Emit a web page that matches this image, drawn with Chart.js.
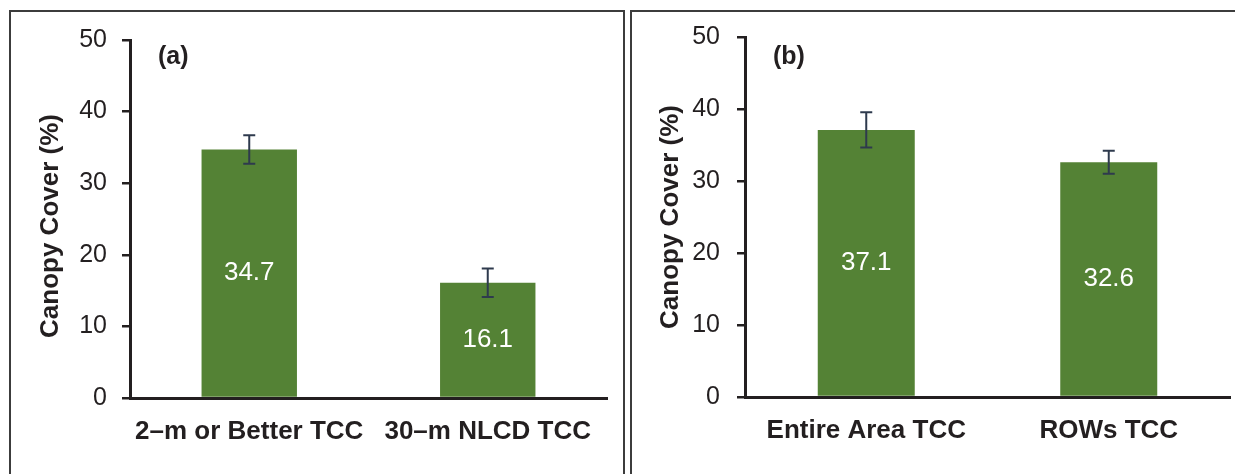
<!DOCTYPE html>
<html>
<head>
<meta charset="utf-8">
<script src="https://cdn.jsdelivr.net/npm/chart.js@4.4.0/dist/chart.umd.min.js"></script>
<style>
  html, body { margin: 0; padding: 0; background: #fff; }
  body { width: 1235px; height: 474px; position: relative; overflow: hidden; }
  .panel { position: absolute; box-sizing: border-box; border: 2px solid #3c3c3c; }
  canvas { position: absolute; }
</style>
</head>
<body>
<div class="panel" style="left:9px; top:10px; width:616px; height:520px;"></div>
<div class="panel" style="left:630px; top:10px; width:700px; height:520px;"></div>
<canvas id="chartA" width="615" height="463" style="left:10px; top:11px;"></canvas>
<canvas id="chartB" width="604" height="463" style="left:631px; top:11px;"></canvas>
<script>
// panel (a)
const labelsA = ['2\u2013m or Better TCC', '30\u2013m NLCD TCC'];
const valuesA = [34.7, 16.1];
const errorsA = [2.0, 2.0];

// panel (b)
const labelsB = ['Entire Area TCC', 'ROWs TCC'];
const valuesB = [37.1, 32.6];
const errorsB = [2.45, 1.6];

const yTicks = [0, 10, 20, 30, 40, 50];
const yTitle = 'Canopy Cover (%)';

const FONT = "'Liberation Sans', Arial, Helvetica, sans-serif";
const INK = '#231f20';
const GREEN = '#548235';

// error bars, value labels inside bars, panel letter and y title
const barExtras = {
    id: 'barExtras',
    afterDatasetsDraw(chart, args, opts) {
        const ctx = chart.ctx;
        const area = chart.chartArea;
        const yScale = chart.scales.y;
        const meta = chart.getDatasetMeta(0);
        const values = chart.data.datasets[0].data;
        ctx.save();
        meta.data.forEach((bar, i) => {
            const v = values[i];
            const e = opts.errors[i];
            const yHi = yScale.getPixelForValue(v + e);
            const yLo = yScale.getPixelForValue(v - e);
            ctx.strokeStyle = '#2e3a4d';
            ctx.lineWidth = 2;
            ctx.beginPath();
            ctx.moveTo(bar.x, yHi);
            ctx.lineTo(bar.x, yLo);
            ctx.moveTo(bar.x - 6, yHi);
            ctx.lineTo(bar.x + 6, yHi);
            ctx.moveTo(bar.x - 6, yLo);
            ctx.lineTo(bar.x + 6, yLo);
            ctx.stroke();

            ctx.fillStyle = '#ffffff';
            ctx.font = '26px ' + FONT;
            ctx.textAlign = 'center';
            ctx.textBaseline = 'middle';
            ctx.fillText(v.toFixed(1), bar.x, (bar.y + bar.base) / 2);
        });

        ctx.fillStyle = INK;
        ctx.font = 'bold 25px ' + FONT;
        ctx.textAlign = 'left';
        ctx.textBaseline = 'middle';
        ctx.fillText(opts.letter, area.left + 28, area.top + opts.letterDy);

        // rotated axis title
        ctx.translate(opts.titleX, (area.top + area.bottom) / 2 + opts.titleDy);
        ctx.rotate(-Math.PI / 2);
        ctx.font = 'bold 26px ' + FONT;
        ctx.textAlign = 'center';
        ctx.fillText(yTitle, 0, 0);
        ctx.restore();
    }
};

function makeChart(canvasId, labels, values, errors, letter, cfg) {
    const ctx = document.getElementById(canvasId).getContext('2d');
    return new Chart(ctx, {
        type: 'bar',
        data: {
            labels: labels,
            datasets: [{
                data: values,
                backgroundColor: GREEN,
                borderWidth: 0,
                categoryPercentage: 1.0,
                barPercentage: 0.4
            }]
        },
        options: {
            responsive: false,
            animation: false,
            events: [],
            layout: { padding: { top: cfg.padTop, right: cfg.padRight, left: 0, bottom: 0 } },
            plugins: {
                legend: { display: false },
                tooltip: { enabled: false },
                barExtras: { errors: errors, letter: letter, letterDy: cfg.letterDy, titleX: cfg.titleX, titleDy: cfg.titleDy }
            },
            scales: {
                x: {
                    grid: { display: false, drawTicks: false },
                    border: { display: true, color: INK, width: 3 },
                    ticks: {
                        color: INK,
                        padding: 18,
                        maxRotation: 0,
                        autoSkip: false,
                        font: { family: FONT, size: 26, weight: 'bold' }
                    },
                    afterFit: (scale) => { scale.height = cfg.xHeight; }
                },
                y: {
                    min: yTicks[0],
                    max: yTicks[yTicks.length - 1],
                    afterBuildTicks: (scale) => { scale.ticks = yTicks.map(v => ({ value: v })); },
                    grid: { display: true, drawOnChartArea: false, drawTicks: true, tickLength: 8, color: INK, lineWidth: 2.5 },
                    border: { display: true, color: INK, width: 3 },
                    ticks: {
                        color: INK,
                        padding: cfg.tickPad,
                        font: { family: FONT, size: 25 }
                    },
                    afterFit: (scale) => {
                        scale.width = cfg.yWidth;
                        scale.paddingTop = 0;
                        scale.paddingBottom = 0;
                    }
                }
            }
        },
        plugins: [barExtras]
    });
}

makeChart('chartA', labelsA, valuesA, errorsA, '(a)',
    { padTop: 29, padRight: 18, xHeight: 76, yWidth: 120, tickPad: 15, letterDy: 17, titleX: 41, titleDy: 7 });
makeChart('chartB', labelsB, valuesB, errorsB, '(b)',
    { padTop: 26, padRight: 5, xHeight: 77, yWidth: 114, tickPad: 17, letterDy: 20, titleX: 40, titleDy: 0 });
</script>
</body>
</html>
